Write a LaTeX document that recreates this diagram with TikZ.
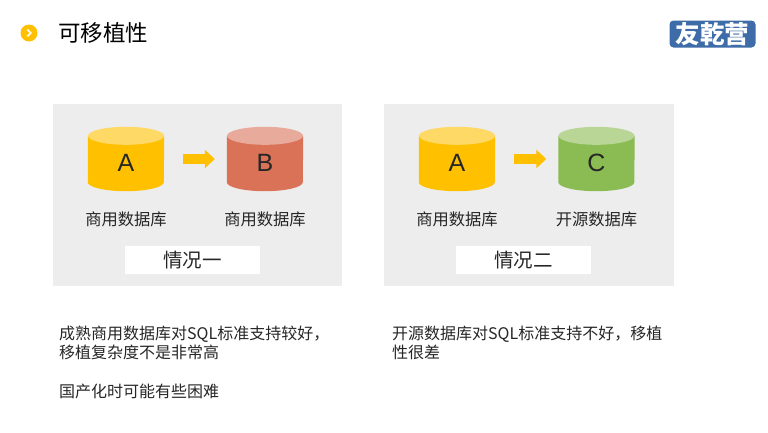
\documentclass[tikz,border=0pt]{standalone}
\usepackage{fontspec}
\setmainfont{Noto Sans CJK SC}
\newfontfamily\latinfont{Liberation Sans}
\usetikzlibrary{arrows.meta,positioning}
\definecolor{panelgray}{HTML}{EDEDED}
\definecolor{dbyellow}{HTML}{FFC000}
\definecolor{dbyellowtop}{HTML}{FFD966}
\definecolor{dbred}{HTML}{D97256}
\definecolor{dbredtop}{HTML}{E8AA9A}
\definecolor{dbgreen}{HTML}{8BBB53}
\definecolor{dbgreentop}{HTML}{B9D696}
\definecolor{logoblue}{HTML}{3E6CA8}
\definecolor{textdark}{HTML}{262626}
\tikzset{
	x=1pt, y=-1pt,
	panel/.style={fill=panelgray, minimum width=289.5pt, minimum height=182pt, inner sep=0pt},
	tagbox/.style={fill=white, text=textdark, minimum width=135pt, minimum height=28pt, inner sep=0pt, font=\fontsize{19.5}{19.5}\selectfont},
	db/.style={minimum width=76pt, minimum height=64pt, inner sep=0pt},
	dbname/.style={text=textdark, font=\fontsize{25}{25}\latinfont},
	dblabel/.style={text=textdark, inner sep=0pt, font=\fontsize{16.3}{16.3}\selectfont},
	flow/.style={draw=dbyellow, line width=10pt, -{Triangle[length=10pt,width=18pt]}},
	body/.style={text=textdark, inner sep=0pt, anchor=north west, align=left, font=\fontsize{16}{19}\selectfont}
}
% name, position, body colour, top colour, letter
\newcommand{\dbnode}[5]{
	\node[db] (#1) at(#2){};
	\fill[#3] ([yshift=-9pt]#1.north west) -- ([yshift=9pt]#1.south west)
		arc[start angle=180, end angle=360, x radius=38pt, y radius=9pt]
		-- ([yshift=-9pt]#1.north east) -- cycle;
	\fill[#4] ([yshift=-9pt]#1.north) ellipse[x radius=38pt, y radius=9pt];
	\node[dbname] (#1name) at([yshift=-4pt]#1.center){#5};
}
\begin{document}
\begin{tikzpicture}
	\useasboundingbox (0, 0) rectangle (768, 432);

	% title
	\node[circle, fill=dbyellow, minimum size=17pt, inner sep=0pt] (bullet) at(29, 33){};
	\draw[white, line width=1.6pt] (27.3, 29.6) to (30.8, 33) to (27.3, 36.4);
	\node[anchor=west, inner sep=0pt, text=black, font=\fontsize{22.5}{22.5}\selectfont] (title) at(58, 32.5){可移植性};
	\node[fill=logoblue, rounded corners=4pt, minimum width=86pt, minimum height=27pt, inner sep=0pt, text=white, font=\fontsize{24.5}{24.5}\bfseries] (logo) at(712.5, 34){友乾营};

	% left panel
	\node[panel] (panelA) at(197.5, 195){};
		\dbnode{dbA}{126, 159}{dbyellow}{dbyellowtop}{A}
		\dbnode{dbB}{265, 159}{dbred}{dbredtop}{B}
		\draw[flow, shorten <=19pt, shorten >=12pt] (dbA.east) to (dbB.west);
		\node[dblabel] (labelA) at(126, 219){商用数据库};
		\node[dblabel] (labelB) at(265, 219){商用数据库};
		\node[tagbox] (tagA) at(192.5, 260){情况一};

	% right panel
	\node[panel] (panelB) at(529, 195){};
		\dbnode{dbC}{457, 159}{dbyellow}{dbyellowtop}{A}
		\dbnode{dbD}{596.5, 159}{dbgreen}{dbgreentop}{C}
		\draw[flow, shorten <=19pt, shorten >=12pt] (dbC.east) to (dbD.west);
		\node[dblabel] (labelC) at(457, 219){商用数据库};
		\node[dblabel] (labelD) at(596.5, 219){开源数据库};
		\node[tagbox] (tagB) at(523.5, 260){情况二};

	% notes
	\node[body] (noteA) at(59, 325.5){成熟商用数据库对SQL标准支持较好，\\移植复杂度不是非常高\\[20pt]国产化时可能有些困难};
	\node[body] (noteB) at(392, 325.5){开源数据库对SQL标准支持不好，移植\\性很差};

\end{tikzpicture}
\end{document}
